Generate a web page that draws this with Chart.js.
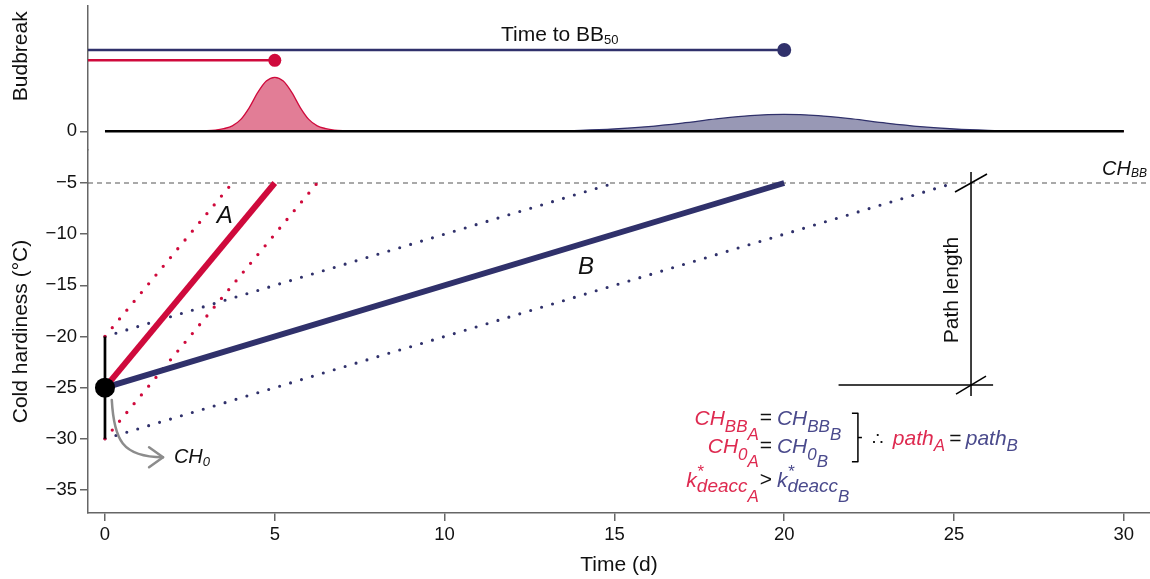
<!DOCTYPE html>
<html>
<head>
<meta charset="utf-8">
<title>Cold hardiness paths to budbreak</title>
<script src="https://cdn.jsdelivr.net/npm/chart.js@4.4.1/dist/chart.umd.min.js"></script>
<style>
  html, body { margin: 0; padding: 0; background: #fff; }
  #wrap { width: 1150px; height: 579px; }
</style>
</head>
<body>
<div id="wrap"><canvas id="chart" width="1150" height="579"></canvas></div>
<script>
/* ============================================================
   Deacclimation paths A and B, with budbreak distributions.
   Values.
   ============================================================ */

// ---- axes ----
const X_TICKS   = [0, 5, 10, 15, 20, 25, 30];
const CH_TICKS  = [-5, -10, -15, -20, -25, -30, -35];
const BUD_TICKS = [0];

// ---- cold hardiness paths ----
const CH_BB    = -5;                 // cold hardiness at budbreak
const CH_0     = [-20, -25, -30];    // upper, mean, lower initial hardiness
const BB_DAY_A = [3.75, 5, 6.25];    // day CH_BB is reached from each CH_0
const BB_DAY_B = [15, 20, 25];

// ---- budbreak panel ----
const BB50_DAY   = [5, 20];          // A, B
const BB50_LEVEL = [1.315, 1.505];   // height of the time-to-BB50 bars

const DENS_X_A = [0, 2, 2.5, 3, 3.25, 3.5, 3.75, 4, 4.25, 4.5, 4.75, 5,
                  5.25, 5.5, 5.75, 6, 6.25, 6.5, 6.75, 7, 7.5, 8, 30];
const DENS_A   = [0, 0, 0.002, 0.01, 0.022, 0.05, 0.10, 0.22, 0.44, 0.72, 0.93, 1.00,
                  0.93, 0.72, 0.44, 0.22, 0.10, 0.05, 0.022, 0.01, 0.002, 0, 0];

const DENS_X_B = [0, 10, 11, 12, 13, 14, 15, 16, 17, 18, 19, 20,
                  21, 22, 23, 24, 25, 26, 27, 28, 29, 30];
const DENS_B   = [0, 0, 0.001, 0.003, 0.007, 0.018, 0.043, 0.088, 0.153, 0.229, 0.291, 0.315,
                  0.291, 0.229, 0.153, 0.088, 0.043, 0.018, 0.007, 0.003, 0.001, 0];

(function () {
  'use strict';

  const RED       = '#CF0A3C';
  const RED_FILL  = '#E27D96';
  const RED_TEXT  = '#DE2A50';
  const BLUE      = '#30316B';
  const BLUE_FILL = '#9898B5';
  const BLUE_TEXT = '#4A4A8C';
  const AXIS      = '#666666';
  const INK       = '#111111';
  const FAMILY    = "'Liberation Sans', Arial, sans-serif";

  const X_MIN = -0.5, X_MAX = 30.77;

  Chart.defaults.font.family = FAMILY;
  Chart.defaults.font.size = 18.5;
  Chart.defaults.color = INK;

  const seg   = (x0, y0, x1, y1) => [{ x: x0, y: y0 }, { x: x1, y: y1 }];
  const pairs = (xs, ys) => xs.map((x, i) => ({ x: x, y: ys[i] }));
  const minus = (v) => String(v).replace('-', '\u2212');

  function line(data, axis, color, width, extra) {
    return Object.assign({
      data: data, yAxisID: axis, borderColor: color, borderWidth: width,
      pointRadius: 0, fill: false, tension: 0,
    }, extra || {});
  }
  const dotted = { borderDash: [0, 11.4], borderCapStyle: 'round' };

  const datasets = [
    line(pairs(DENS_X_B, DENS_B), 'yBud', BLUE, 1.3,
         { fill: 'origin', backgroundColor: BLUE_FILL, cubicInterpolationMode: 'monotone', order: 30 }),
    line(pairs(DENS_X_A, DENS_A), 'yBud', RED, 1.3,
         { fill: 'origin', backgroundColor: RED_FILL, cubicInterpolationMode: 'monotone', order: 29 }),
    line(seg(X_TICKS[0], 0, X_TICKS[X_TICKS.length - 1], 0), 'yBud', '#000', 2.5, { order: 28 }),
    line(seg(X_MIN, BB50_LEVEL[1], BB50_DAY[1], BB50_LEVEL[1]), 'yBud', BLUE, 2.5,
         { pointRadius: [0, 7], pointBackgroundColor: BLUE, pointBorderWidth: 0, order: 27 }),
    line(seg(X_MIN, BB50_LEVEL[0], BB50_DAY[0], BB50_LEVEL[0]), 'yBud', RED, 2.5,
         { pointRadius: [0, 6.5], pointBackgroundColor: RED, pointBorderWidth: 0, order: 26 }),

    line(seg(X_MIN, CH_BB, X_MAX, CH_BB), 'y', '#555', 1.2, { borderDash: [5, 4], order: 20 }),
    line(seg(0, CH_0[0], BB_DAY_B[0], CH_BB), 'y', BLUE, 3.1, Object.assign({ order: 19 }, dotted)),
    line(seg(0, CH_0[2], BB_DAY_B[2], CH_BB), 'y', BLUE, 3.1, Object.assign({ order: 18 }, dotted)),
    line(seg(0, CH_0[0], BB_DAY_A[0], CH_BB), 'y', RED, 3.3, Object.assign({ order: 17 }, dotted)),
    line(seg(0, CH_0[2], BB_DAY_A[2], CH_BB), 'y', RED, 3.3, Object.assign({ order: 16 }, dotted)),
    line(seg(0, CH_0[1], BB_DAY_B[1], CH_BB), 'y', BLUE, 6, { order: 12 }),
    line(seg(0, CH_0[1], BB_DAY_A[1], CH_BB), 'y', RED, 6, { order: 11 }),
    line(seg(0, CH_0[0], 0, CH_0[2]), 'y', '#000', 2.7, { order: 5 }),
    line([{ x: 0, y: CH_0[1] }], 'y', '#000', 0,
         { showLine: false, pointRadius: 10, pointBackgroundColor: '#000', pointBorderWidth: 0, order: 1 }),
  ];

  // ---- text helpers ----
  const font = (size, italic) => (italic ? 'italic ' : '') + size + 'px ' + FAMILY;
  const r = (t, c, size, dy, italic, stay) => ({ t, c, size, dy: dy || 0, italic: italic !== false, stay: !!stay });

  function drawRuns(ctx, runs, x, y, align) {
    let w = 0;
    runs.forEach((run) => {
      ctx.font = font(run.size, run.italic);
      run.w = ctx.measureText(run.t).width;
      if (!run.stay) w += run.w;
    });
    let cx = align === 'right' ? x - w : align === 'center' ? x - w / 2 : x;
    ctx.textAlign = 'left';
    ctx.textBaseline = 'alphabetic';
    runs.forEach((run) => {
      ctx.font = font(run.size, run.italic);
      ctx.fillStyle = run.c;
      ctx.fillText(run.t, cx, y + run.dy);
      if (!run.stay) cx += run.w;
    });
  }

  function seg2(ctx, x0, y0, x1, y1) {
    ctx.beginPath(); ctx.moveTo(x0, y0); ctx.lineTo(x1, y1); ctx.stroke();
  }

  const annotations = {
    id: 'annotations',
    afterDatasetsDraw(chart) {
      const { ctx, scales } = chart;
      const X = (v) => scales.x.getPixelForValue(v);
      const Y = (v) => scales.y.getPixelForValue(v);
      const B = (v) => scales.yBud.getPixelForValue(v);
      ctx.save();

      // Budbreak axis title
      ctx.save();
      ctx.translate(21, B(1.39));
      ctx.rotate(-Math.PI / 2);
      ctx.font = font(21, false);
      ctx.fillStyle = INK;
      ctx.textAlign = 'center';
      ctx.textBaseline = 'middle';
      ctx.fillText('Budbreak', 0, 0);
      ctx.restore();

      // Time to BB50
      drawRuns(ctx, [r('Time to BB', INK, 21, 0, false), r('50', INK, 13, 3, false)], X(11.66), B(1.68), 'left');

      // CH_BB label
      drawRuns(ctx, [r('CH', INK, 20, 0), r('BB', INK, 12, 2)], chart.chartArea.right - 3, Y(CH_BB) - 8, 'right');

      // path labels
      ctx.font = font(24, true);
      ctx.fillStyle = INK;
      ctx.textAlign = 'center';
      ctx.textBaseline = 'middle';
      ctx.fillText('A', X(3.53), Y(-8.3));
      ctx.fillText('B', X(14.16), Y(-13.2));

      // CH_0 arrow
      ctx.strokeStyle = '#8C8C8C';
      ctx.lineWidth = 2.5;
      ctx.lineCap = 'round';
      ctx.lineJoin = 'round';
      const tipX = X(1.71), tipY = Y(-31.8);
      ctx.beginPath();
      ctx.moveTo(X(0.2), Y(-26.2));
      ctx.bezierCurveTo(X(0.265), Y(-30.1), X(0.5), Y(-31.78), tipX, tipY);
      ctx.stroke();
      ctx.beginPath();
      ctx.moveTo(tipX - 14, tipY - 10);
      ctx.lineTo(tipX, tipY);
      ctx.lineTo(tipX - 14, tipY + 10);
      ctx.stroke();
      drawRuns(ctx, [r('CH', INK, 20, 0), r('0', INK, 13, 3)], X(2.03), Y(-32.36), 'left');

      // path length marker
      ctx.strokeStyle = '#000';
      ctx.lineWidth = 1.5;
      ctx.lineCap = 'butt';
      const px = X(25.5), yTop = Y(CH_BB), yBot = Y(-24.75);
      seg2(ctx, px, yTop - 11, px, yBot + 11);
      seg2(ctx, X(21.6), yBot, X(26.15), yBot);
      seg2(ctx, px - 16, yTop + 9, px + 16, yTop - 9);
      seg2(ctx, px - 15, yBot + 9, px + 15, yBot - 9);
      ctx.save();
      ctx.translate(px - 19, (yTop + yBot) / 2 + 6);
      ctx.rotate(-Math.PI / 2);
      ctx.font = font(21, false);
      ctx.fillStyle = INK;
      ctx.textAlign = 'center';
      ctx.textBaseline = 'middle';
      ctx.fillText('Path length', 0, 0);
      ctx.restore();

      // equation block
      const eqX = X(19.46);
      const rows = [
        { y: Y(-28.65), op: '=',
          left:  [r('CH', RED_TEXT, 21), r('BB', RED_TEXT, 17, 7), r('A', RED_TEXT, 17, 15)],
          right: [r('CH', BLUE_TEXT, 21), r('BB', BLUE_TEXT, 17, 7), r('B', BLUE_TEXT, 17, 15)] },
        { y: Y(-31.4), op: '=',
          left:  [r('CH', RED_TEXT, 21), r('0', RED_TEXT, 17, 7), r('A', RED_TEXT, 17, 14)],
          right: [r('CH', BLUE_TEXT, 21), r('0', BLUE_TEXT, 17, 7), r('B', BLUE_TEXT, 17, 14)] },
        { y: Y(-34.7), op: '>',
          left:  [r('k', RED_TEXT, 21), r('*', RED_TEXT, 17, -10, true, true), r('deacc', RED_TEXT, 19, 5), r('A', RED_TEXT, 17, 15)],
          right: [r('k', BLUE_TEXT, 21), r('*', BLUE_TEXT, 17, -10, true, true), r('deacc', BLUE_TEXT, 19, 5), r('B', BLUE_TEXT, 17, 15)] },
      ];
      rows.forEach((row) => {
        drawRuns(ctx, row.left, eqX - 7, row.y, 'right');
        drawRuns(ctx, [r(row.op, INK, 21, 0, false)], eqX, row.y - 1, 'center');
        drawRuns(ctx, row.right, eqX + 11, row.y, 'left');
      });

      // bracket
      const bx = X(22.17), bTop = Y(-27.5), bBot = Y(-32.25);
      ctx.beginPath();
      ctx.moveTo(bx - 6, bTop); ctx.lineTo(bx, bTop); ctx.lineTo(bx, bBot); ctx.lineTo(bx - 6, bBot);
      ctx.stroke();
      seg2(ctx, bx, (bTop + bBot) / 2, bx + 4, (bTop + bBot) / 2);

      drawRuns(ctx, [
        r('\u2234  ', INK, 18, 0, false),
        r('path', RED_TEXT, 21), r('A', RED_TEXT, 17, 6),
        r('\u2009=\u2009', INK, 21, 0, false),
        r('path', BLUE_TEXT, 21), r('B', BLUE_TEXT, 17, 6),
      ], X(22.58), Y(-30.6), 'left');

      ctx.restore();
    },
  };

  const axisGrid = { drawOnChartArea: false, drawTicks: true, tickLength: 8, color: AXIS, lineWidth: 1.5 };
  const axisBorder = { color: AXIS, width: 1.5 };
  const noPadY = (s) => { s.width = 88; s.paddingTop = 0; s.paddingBottom = 0; };

  new Chart(document.getElementById('chart'), {
    type: 'line',
    data: { datasets: datasets },
    options: {
      responsive: false,
      animation: false,
      layout: { autoPadding: false, padding: { top: 6, right: 0, bottom: 0, left: 0 } },
      plugins: { legend: { display: false }, tooltip: { enabled: false } },
      scales: {
        x: {
          type: 'linear', min: X_MIN, max: X_MAX,
          afterBuildTicks: (s) => { s.ticks = X_TICKS.map((v) => ({ value: v })); },
          afterFit: (s) => { s.height = 66; s.paddingLeft = 0; s.paddingRight = 0; },
          grid: axisGrid, border: axisBorder,
          ticks: { padding: 3, color: INK, maxRotation: 0 },
          title: { display: true, text: 'Time (d)', color: INK, font: { size: 21 }, padding: { top: 4, bottom: 1.5 } },
        },
        y: {
          type: 'linear', position: 'left', stack: 'panels', stackWeight: 363, weight: 1,
          min: -37.25, max: -1.775,
          afterBuildTicks: (s) => { s.ticks = CH_TICKS.map((v) => ({ value: v })); },
          afterFit: noPadY,
          grid: axisGrid, border: axisBorder,
          ticks: { padding: 3, color: INK, callback: minus },
          title: { display: true, text: 'Cold hardiness (\u00B0C)', color: INK, font: { size: 21 }, padding: { top: 8.5, bottom: 0 } },
        },
        yBud: {
          type: 'linear', position: 'left', stack: 'panels', stackWeight: 144, weight: 2,
          min: -0.346, max: 2.32,
          afterBuildTicks: (s) => { s.ticks = BUD_TICKS.map((v) => ({ value: v })); },
          afterFit: noPadY,
          grid: axisGrid, border: axisBorder,
          ticks: { padding: 3, color: INK, callback: minus },
        },
      },
    },
    plugins: [annotations],
  });
})();
</script>
</body>
</html>
